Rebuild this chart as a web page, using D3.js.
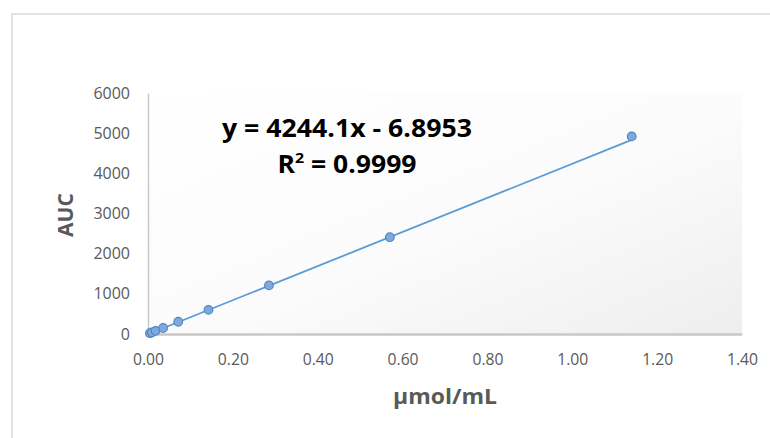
<!DOCTYPE html>
<html>
<head>
<meta charset="utf-8">
<script src="https://cdn.jsdelivr.net/npm/d3@7"></script>
<style>
  html, body { margin: 0; padding: 0; background: #fff; }
  svg { display: block; }
</style>
</head>
<body>
<svg id="chart" width="770" height="438"></svg>
<script>
// Data (concentration μmol/mL vs AUC)
const concentrations = [0.0045, 0.0089, 0.0178, 0.0356, 0.0713, 0.1425, 0.285, 0.57, 1.14];
const aucValues = [20, 38, 78, 150, 305, 600, 1210, 2410, 4920];
const xTicks = [0, 0.2, 0.4, 0.6, 0.8, 1.0, 1.2, 1.4];
const yTicks = [0, 1000, 2000, 3000, 4000, 5000, 6000];
const slope = 4244.1;
const intercept = -6.8953;
const equationText = "y = 4244.1x - 6.8953";
const r2Value = "0.9999";
const xTitle = "μmol/mL";
const yTitle = "AUC";

(function () {
const svg = d3.select("#chart");
const pLeft = 148, pRight = 742, pTop = 93, pBottom = 334;

const x = d3.scaleLinear().domain([0, 1.4]).range([pLeft, pRight]);
const y = d3.scaleLinear().domain([0, 6000]).range([pBottom, pTop]);

// chart border
svg.append("rect").attr("x", 12).attr("y", 14).attr("width", 800).attr("height", 500)
  .attr("fill", "#fff").attr("stroke", "#d9d9d9").attr("stroke-width", 1.5);

// plot area gradient
const defs = svg.append("defs");
const grad = defs.append("linearGradient").attr("id", "pa").attr("x1", "0%").attr("y1", "0%").attr("x2", "100%").attr("y2", "100%");
grad.append("stop").attr("offset", "0%").attr("stop-color", "#ffffff");
grad.append("stop").attr("offset", "55%").attr("stop-color", "#fbfbfb");
grad.append("stop").attr("offset", "100%").attr("stop-color", "#eeeeee");
svg.append("rect").attr("x", pLeft).attr("y", pTop).attr("width", pRight - pLeft).attr("height", pBottom - pTop)
  .attr("fill", "url(#pa)");

const tickFont = "'Open Sans', 'Noto Sans', sans-serif";

// axes
const xAxis = d3.axisBottom(x).tickValues(xTicks).tickFormat(d3.format(".2f")).tickSize(0).tickPadding(20);
const gx = svg.append("g").attr("transform", `translate(0,${pBottom})`).call(xAxis);
gx.attr("font-size", 16).attr("font-family", tickFont);
gx.select(".domain").attr("stroke", "#c8c8c8").attr("stroke-width", 2);
gx.selectAll("text").attr("fill", "#595959").attr("font-size", 16).attr("font-family", tickFont)
  .attr("textLength", 31).attr("lengthAdjust", "spacingAndGlyphs");

const yAxis = d3.axisLeft(y).tickValues(yTicks).tickFormat(d3.format("d")).tickSize(0).tickPadding(18);
const gy = svg.append("g").attr("transform", `translate(${pLeft},0)`).call(yAxis);
gy.attr("font-size", 16).attr("font-family", tickFont);
gy.select(".domain").attr("stroke", "#c8c8c8").attr("stroke-width", 1.5);
gy.selectAll("text").attr("fill", "#595959").attr("font-size", 16).attr("font-family", tickFont);

// x axis line on top
svg.append("line").attr("x1", pLeft).attr("x2", pRight).attr("y1", pBottom + 0.5).attr("y2", pBottom + 0.5)
  .attr("stroke", "#c8c8c8").attr("stroke-width", 2);

// trendline
const xmin = d3.min(concentrations), xmax = d3.max(concentrations);
svg.append("line")
  .attr("x1", x(xmin)).attr("y1", y(slope * xmin + intercept))
  .attr("x2", x(xmax)).attr("y2", y(slope * xmax + intercept))
  .attr("stroke", "#5b9bd5").attr("stroke-width", 1.8);

// points
svg.append("g").selectAll("circle").data(concentrations).join("circle")
  .attr("cx", (d) => x(d)).attr("cy", (d, i) => y(aucValues[i])).attr("r", 4.3)
  .attr("fill", "#7fa9de").attr("stroke", "#4f86c6").attr("stroke-width", 1.2);

// equation
const eqFont = "'Open Sans', 'Noto Sans', sans-serif";
svg.append("text").attr("x", 347).attr("y", 137).attr("text-anchor", "middle")
  .attr("font-family", eqFont).attr("font-weight", "bold").attr("font-size", 25)
  .attr("fill", "#000").attr("textLength", 250).attr("lengthAdjust", "spacingAndGlyphs")
  .text(equationText);
const r2 = svg.append("text").attr("x", 347).attr("y", 173).attr("text-anchor", "middle")
  .attr("font-family", eqFont).attr("font-weight", "bold").attr("font-size", 25).attr("fill", "#000")
  .attr("textLength", 139).attr("lengthAdjust", "spacingAndGlyphs");
r2.append("tspan").text("R");
r2.append("tspan").attr("font-size", 15).attr("dy", -10).text("2");
r2.append("tspan").attr("dy", 10).text(" = " + r2Value);

// axis titles
svg.append("text").attr("x", 445).attr("y", 404).attr("text-anchor", "middle")
  .attr("font-family", eqFont).attr("font-weight", "bold").attr("font-size", 21).attr("fill", "#595959")
  .attr("textLength", 104).attr("lengthAdjust", "spacingAndGlyphs")
  .text(xTitle);
svg.append("text").attr("transform", "translate(73,215) rotate(-90)").attr("text-anchor", "middle")
  .attr("font-family", eqFont).attr("font-weight", "bold").attr("font-size", 21).attr("fill", "#595959")
  .text(yTitle);
})();
</script>
</body>
</html>
